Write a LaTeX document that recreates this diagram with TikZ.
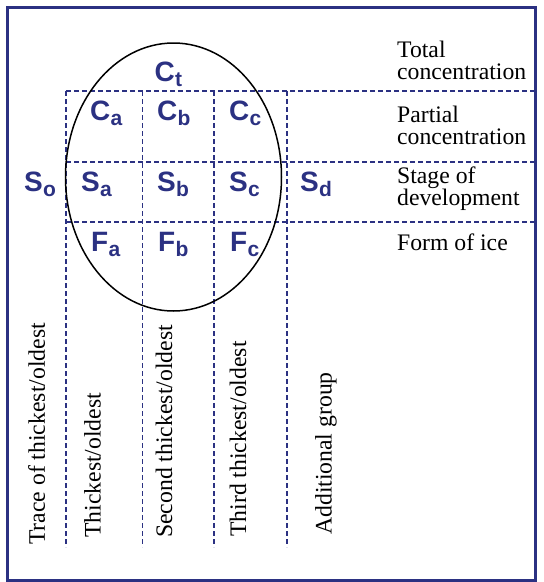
\documentclass[tikz,border=0pt]{standalone}
\usepackage{fontspec}
\setmainfont{Liberation Serif}
\setsansfont{Liberation Sans}
\definecolor{navy}{RGB}{43,49,130}
\newcommand\sublbl[2]{#1\kern0.3pt\raisebox{-5pt}{\fontsize{21pt}{21pt}\selectfont #2}}
\begin{document}
\begin{tikzpicture}[x=1pt,y=-1pt,
  frame/.style={draw=navy, line width=3pt},
  gridline/.style={draw=navy, line width=1.3pt, dash pattern=on 5pt off 3pt},
  sym/.style={text=navy, font=\sffamily\bfseries\fontsize{28pt}{28pt}\selectfont, anchor=base west, inner sep=0pt},
  desc/.style={font=\fontsize{23.7pt}{22pt}\selectfont, anchor=base west, inner sep=0pt, align=left},
  col/.style={font=\fontsize{23.7pt}{24pt}\selectfont, anchor=base west, inner sep=0pt, rotate=90}]
\useasboundingbox (0,0) rectangle (544,582);
\draw[frame] (7,7) rectangle (535,580);
% grid
\draw[gridline] (66,91) -- (535,91);
\draw[gridline] (66,162) -- (535,162);
\draw[gridline] (66,222) -- (535,222);
\foreach \x in {66,142.5,214,287} \draw[gridline] (\x,91) -- (\x,547);
% ellipse
\draw[line width=1.5pt] (173.5,177) ellipse [x radius=108, y radius=134];
% symbols
\node[sym] (ct) at (154.5,81) {\sublbl{C}{t}};
\node[sym] (ca) at (90,120) {\sublbl{C}{a}};
\node[sym] (cb) at (157,120) {\sublbl{C}{b}};
\node[sym] (cc) at (229,120) {\sublbl{C}{c}};
\node[sym] (so) at (24,191.5) {\sublbl{S}{o}};
\node[sym] (sa) at (81,191.5) {\sublbl{S}{a}};
\node[sym] (sb) at (157,191.5) {\sublbl{S}{b}};
\node[sym] (sc) at (229,191.5) {\sublbl{S}{c}};
\node[sym] (sd) at (300,191.5) {\sublbl{S}{d}};
\node[sym] (fa) at (91,251.5) {\sublbl{F}{a}};
\node[sym] (fb) at (158,251.5) {\sublbl{F}{b}};
\node[sym] (fc) at (230,251.5) {\sublbl{F}{c}};
% descriptions (base = baseline of last line)
\node[desc] (tot) at (397,79) {Total\\concentration};
\node[desc] (par) at (397,144) {Partial\\concentration};
\node[desc] (stg) at (397,205) {Stage of\\development};
\node[desc] (frm) at (397,250.7) {Form of ice};
% columns
\node[col] (tr) at (45,545) {Trace of thickest/oldest};
\node[col] (th) at (100.7,538) {Thickest/oldest};
\node[col] (se) at (172,538) {Second thickest/oldest};
\node[col] (tt) at (246,537) {Third thickest/oldest};
\node[col] (ad) at (331.6,535) {Additional group};
\end{tikzpicture}
\end{document}
